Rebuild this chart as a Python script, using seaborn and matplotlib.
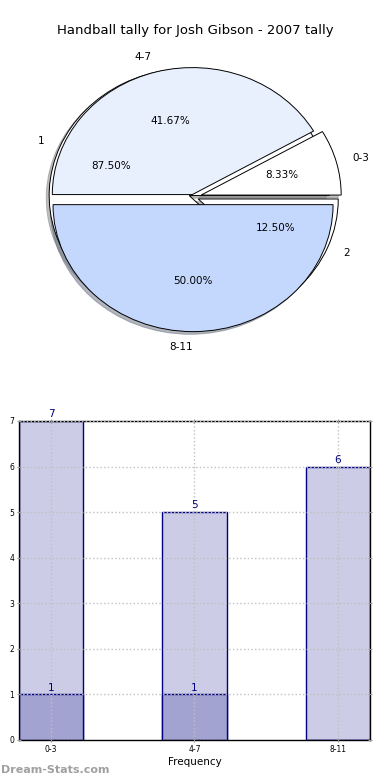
import matplotlib
matplotlib.use("Agg")
import matplotlib.pyplot as plt
import seaborn as sns
import pandas as pd

# ---- data ----
title = "Handball tally for Josh Gibson - 2007 tally"
pie_labels_a = ["0-3", "4-7", "8-11"]
pie_values_a = [1, 5, 6]
pie_labels_b = ["1", "2"]
pie_values_b = [7, 1]

categories = ["0-3", "4-7", "8-11"]
series_total = [7, 5, 6]
series_sub = [1, 1, 0]
xlabel = "Frequency"
watermark = "Dream-Stats.com"

fig = plt.figure(figsize=(3.9, 7.8), dpi=100)
fig.patch.set_facecolor("white")

# ---- pie ----
axp = fig.add_axes([0.136, 0.5846, 0.718, 0.3256])
wp = dict(edgecolor="black", linewidth=0.7)
shadow = dict(ox=-0.015, oy=-0.015, shade=0.5)
axp.pie(pie_values_b, labels=pie_labels_b, autopct="%.2f%%", startangle=0,
        explode=[0.03, 0.04], colors=["white", "white"], shadow=shadow,
        labeldistance=1.12,
        wedgeprops=wp, textprops=dict(fontsize=7.5), frame=True)
_, texts_a, _ = axp.pie(pie_values_a, labels=pie_labels_a, autopct="%.2f%%", startangle=0,
                        explode=[0.06, 0.02, 0.06], colors=["white", "#e8f0fe", "#c4d7fd"],
                        labeldistance=1.12,
                        shadow=shadow, wedgeprops=wp, textprops=dict(fontsize=7.5), frame=True)
texts_a[2].set_horizontalalignment("right")
axp.set_aspect("auto")
axp.set_xlim(-1, 1)
axp.set_ylim(-1, 1)
axp.set_axis_off()
fig.text(0.5, 0.961, title, ha="center", va="center", fontsize=9.5)

# ---- bars ----
axb = fig.add_axes([0.0487, 0.0513, 0.9, 0.409])
df = pd.DataFrame({"cat": categories, "total": series_total, "sub": series_sub})
sns.barplot(data=df, x="cat", y="total", ax=axb, color="#ccccE6", saturation=1,
            width=0.45, edgecolor="navy", linewidth=1)
sns.barplot(data=df, x="cat", y="sub", ax=axb, color="#a3a3d1", saturation=1,
            width=0.45, edgecolor="navy", linewidth=1)
n = len(categories)
for i, (v, s) in enumerate(zip(series_total, series_sub)):
    axb.text(i, v + 0.04, str(v), ha="center", va="bottom", color="navy", fontsize=7.5)
    if s > 0:
        axb.text(i, s + 0.04, str(s), ha="center", va="bottom", color="navy", fontsize=7.5)
axb.set_xlim(-0.225, n - 1 + 0.225)
axb.set_ylim(0, 7)
axb.set_yticks(range(0, 8))
axb.set_xlabel(xlabel, fontsize=7.5, labelpad=2)
axb.set_ylabel("")
axb.grid(True, linestyle=":", color="#c0c0c0", linewidth=1)
axb.set_axisbelow(False)
axb.tick_params(axis="both", labelsize=5.5, length=3, color="#999999", direction="inout",
                top=True, right=True, pad=2)
for sp in axb.spines.values():
    sp.set_color("black")
    sp.set_linewidth(1)

fig.text(0.002, 0.013, watermark, ha="left", va="center", fontsize=8,
         color="#a0a0a0", fontweight="bold")

fig.savefig("out.png", dpi=100)
